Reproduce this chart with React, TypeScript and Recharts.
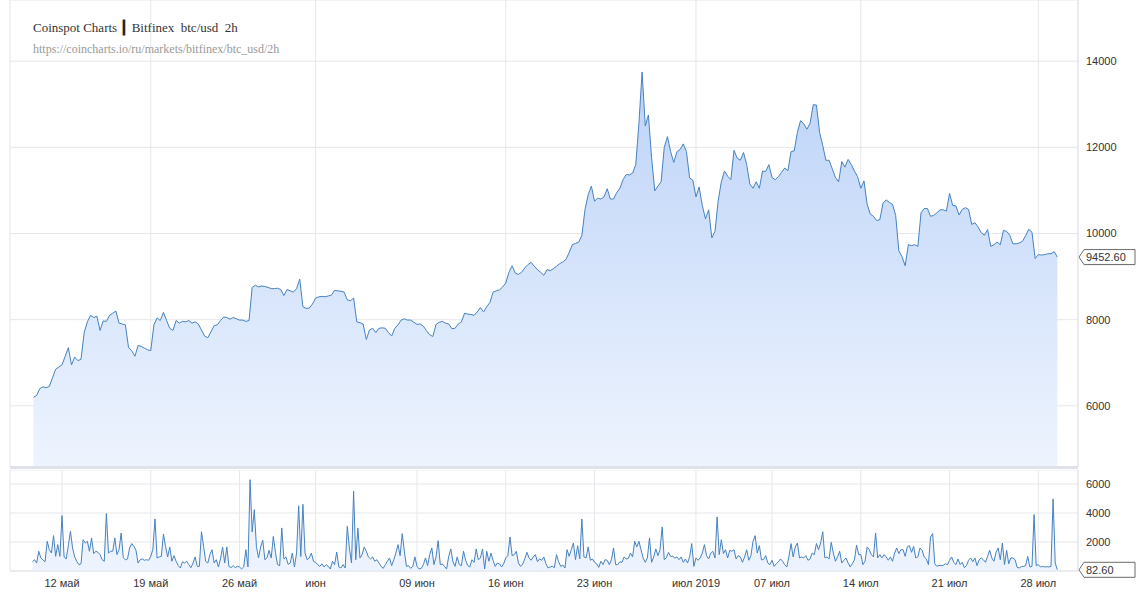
import React from 'react';
import { AreaChart, Area, XAxis, YAxis, CartesianGrid, ReferenceLine } from 'recharts';

// bitfinex btc/usd, May 9 - Jul 29 2019 (price every 6h, volume every 4h)
const HOUR = 3600 * 1000;
const priceStart = Date.UTC(2019, 4, 9, 18);
const priceStepHours = 6;
const volumeStart = Date.UTC(2019, 4, 9, 16);
const volumeStepHours = 4;

const prices = [
  6200, 6240, 6400, 6440, 6420, 6450, 6650, 6850, 6900, 6950,
  7150, 7350, 6950, 7130, 7050, 7080, 7700, 7950, 8100, 8050,
  8080, 7750, 7970, 7960, 8100, 8150, 8200, 7920, 7900, 7880,
  7350, 7280, 7150, 7400, 7380, 7340, 7300, 7280, 7880, 8040,
  7980, 8170, 7980, 7800, 7750, 7980, 7920, 7960, 7950, 7980,
  7920, 7950, 7900, 7760, 7620, 7580, 7720, 7860, 7880, 7980,
  8060, 8050, 8010, 8050, 8020, 7990, 7990, 7960, 7980, 8750,
  8800, 8760, 8780, 8770, 8750, 8720, 8720, 8730, 8700, 8560,
  8700, 8670, 8640, 8720, 8940, 8300, 8260, 8270, 8360, 8500,
  8530, 8540, 8530, 8550, 8570, 8680, 8670, 8660, 8640, 8460,
  8440, 8500, 7950, 7930, 7900, 7540, 7760, 7800, 7700, 7800,
  7810, 7800, 7700, 7620, 7800, 7880,
  7990, 8020, 7990, 7990, 7940, 7890, 7900, 7850, 7740, 7650, 7610,
  7890, 7940, 7960, 7920, 7900, 7790, 7800, 7900, 7950, 8150,
  8130, 8120, 8100, 8180, 8280, 8180, 8300, 8400, 8640, 8670,
  8690, 8760, 8850, 9100, 9250, 9080, 9050, 9100, 9200, 9280,
  9330, 9240, 9160, 9100, 9030, 9160, 9140, 9180, 9240, 9300,
  9340, 9400, 9560, 9740, 9770, 9800, 9950, 10560, 10900, 11100,
  10750, 10820, 10800, 10850, 11040, 10800, 10800, 10950, 11050, 11250,
  11370, 11360, 11400, 11600, 12550, 13750, 12500, 12750, 11760, 10990,
  11100, 11200, 12000, 12250, 11900, 11650, 11900, 11950, 12080, 11900,
  11290, 11240, 10850, 11080, 10650, 10340, 10550, 9900, 10050, 10760,
  11200, 11450, 11330, 11250, 11930, 11750,
  11700, 11880, 11600, 11150, 11050, 11200, 11050, 11450, 11440, 11600,
  11300, 11250, 11320, 11420, 11520, 11460, 11900, 11920, 12350, 12620,
  12550, 12420, 12560, 12990, 12980, 12350, 12040, 11700, 11700, 11500,
  11300, 11200, 11670, 11540, 11720, 11600, 11450, 11320, 11050, 11220,
  10680, 10450, 10400, 10300, 10320, 10700, 10780, 10720, 10680, 10420,
  9600, 9460, 9250, 9740, 9720, 9740, 9700, 10480, 10580, 10580,
  10400, 10420, 10480, 10550, 10550, 10520, 10930, 10650, 10640, 10430,
  10560, 10600, 10560, 10210, 10250, 10150, 10020, 9960, 10090, 9700,
  9740, 9800, 9740, 10070, 10050, 9960, 9760, 9760, 9780, 9820,
  9950, 10100, 10030, 9420, 9510, 9500, 9510, 9530, 9530, 9580,
  9452.6,
];

const volumes = [
  640, 780, 550, 1360, 900, 760, 640, 2050, 1470, 1240,
  2440, 1010, 1820, 1010, 3820, 970, 830, 1750, 2740, 1590,
  970, 670, 440, 500, 2160, 1930, 2050, 1360, 2280, 1200,
  1360, 1290, 1130, 780, 670, 3960, 1240, 1360, 1360, 2280,
  1130, 1470, 2620, 920, 780, 830, 1590, 1890, 1700, 1430,
  550, 780, 830, 740, 780, 740, 1010, 1500, 3590, 900,
  970, 1010, 2550, 1700, 970, 1660, 670, 1060, 670, 370,
  210, 640, 550, 670, 440, 230, 550, 970, 320, 320,
  2710, 1700, 670, 550, 1130, 1470, 550, 780, 280, 830,
  1660, 550, 1660, 320, 230, 370, 230, 320, 280, 140,
  280, 1470, 280, 6300, 2700, 4230, 1700, 900, 1660, 2120,
  780, 900, 1430, 900, 2390, 1290, 440, 370, 2970, 830,
  970, 460,
  550, 1240, 280, 1240, 4500, 1000, 4600, 1240, 780, 900,
  1240, 670, 600, 440, 320, 500, 280, 440, 320, 140,
  670, 440, 1310, 280, 210, 440, 210, 3080, 1590, 550,
  5500, 780, 2970, 900, 1130, 1660, 1360, 970, 830, 970,
  670, 780, 550, 320, 180, 440, 670, 900, 370, 780,
  1240, 1820, 1060, 2580, 1360, 320, 370, 180, 320, 970,
  320, 140, 180, 440, 900, 370, 1130, 1590, 440, 970,
  2090, 440, 480, 320, 140, 1010, 1520, 640, 320, 970,
  440, 370, 1360, 740, 370, 280, 780, 600, 1520, 780,
  900, 1520, 140, 1360, 670, 1240, 740, 320, 550, 500,
  280, 500, 900, 1060, 2350, 1060, 1130, 1360, 550, 320,
  480, 830, 1290, 900, 740, 970, 1130, 640, 830, 740,
  970, 500, 210,
  280, 320, 230, 1130, 640, 320, 410, 210, 1470, 1010,
  1470, 1930, 780, 1750, 830, 3590, 970, 900, 1660, 740,
  830, 600, 500, 250, 670, 440, 780, 740, 440, 780,
  1590, 440, 440, 640, 600, 970, 830, 870, 1240, 970,
  2050, 1660, 2050, 1470, 900, 600, 900, 2280, 600, 970,
  1520, 1060, 1470, 3040, 780, 920, 1290, 1010, 1010, 900,
  970, 780, 970, 600, 830, 550, 970, 1890, 320, 900,
  740, 900, 1240, 1820, 1060, 830, 1240, 1360, 900, 3730,
  1130, 2160, 1200, 1470, 900, 1430, 1360, 1470, 830, 1060,
  970, 600, 970, 1470, 740, 1060, 2050, 2440, 1240, 1750,
  780, 780, 1060, 550, 440, 740, 320, 500, 640, 830,
  670, 440, 280, 1010, 1890, 970, 1660, 1930, 900, 970,
  900, 1060, 740,
  830, 1240, 1130, 1900, 1470, 1930, 2710, 900, 970, 830,
  1980, 1240, 670, 970, 1360, 550, 740, 900, 550, 280,
  500, 780, 1790, 1130, 1130, 440, 670, 1660, 1470, 1130,
  970, 2620, 900, 1130, 900, 1130, 970, 740, 970, 670,
  1240, 1590, 1200, 1470, 1470, 1010, 1660, 1750, 1290, 1700,
  900, 970, 1590, 1430, 970, 830, 440, 2350, 2580, 500,
  320, 390, 370, 390, 500, 440, 740, 970, 600, 440,
  830, 440, 600, 230, 370, 740, 900, 640, 900, 370,
  780, 900, 780, 600, 1010, 1430, 900, 670, 1290, 1590,
  780, 1930, 440, 1430, 500, 900, 900, 780, 250, 210,
  300, 320, 370, 1010, 280, 320, 3890, 370, 440, 280,
  320, 280, 300, 280, 320, 4970, 550, 82.6,
];

const dateTicks = [
  Date.UTC(2019, 4, 12), Date.UTC(2019, 4, 19), Date.UTC(2019, 4, 26), Date.UTC(2019, 5, 1),
  Date.UTC(2019, 5, 9), Date.UTC(2019, 5, 16), Date.UTC(2019, 5, 23), Date.UTC(2019, 6, 1),
  Date.UTC(2019, 6, 7), Date.UTC(2019, 6, 14), Date.UTC(2019, 6, 21), Date.UTC(2019, 6, 28),
];
const dateTickLabels = [
  '12 май', '19 май', '26 май', 'июн', '09 июн', '16 июн', '23 июн', 'июл 2019',
  '07 июл', '14 июл', '21 июл', '28 июл',
];
const priceTicks = [6000, 8000, 10000, 12000, 14000];
const volumeTicks = [2000, 4000, 6000];

const xDomain = [Date.UTC(2019, 4, 7, 21, 35), Date.UTC(2019, 6, 31, 3, 7)];

const priceData = prices.map((price, i) => ({ t: priceStart + i * priceStepHours * HOUR, price }));
const volumeData = volumes.map((volume, i) => ({ t: volumeStart + i * volumeStepHours * HOUR, volume }));

const lastPrice = prices[prices.length - 1];
const lastVolume = volumes[volumes.length - 1];

const sans = '"Liberation Sans", Arial, sans-serif';
const serif = '"Liberation Serif", "Times New Roman", serif';
const lineColor = '#4682c0';
const gridColor = '#e6e7ec';
const tickStyle = { fontSize: 11, fill: '#333', fontFamily: sans };

const ValueTag = (props: any) => {
  const { viewBox, text } = props;
  if (!viewBox) return null;
  const x = viewBox.x + viewBox.width;
  const y = viewBox.y;
  return (
    <g>
      <path
        d={`M${x + 1} ${y} L${x + 6} ${y - 7.5} H${x + 57} V${y + 7.5} H${x + 6} Z`}
        fill="#fff"
        stroke="#6b6b6b"
        strokeWidth={1}
      />
      <text x={x + 8} y={y + 4} fontSize={11} fill="#333" fontFamily={sans}>
        {text}
      </text>
    </g>
  );
};

const formatDate = (t: number) => dateTickLabels[dateTicks.indexOf(t)] ?? '';

export default function App() {
  return (
    <div style={{ position: 'absolute', left: 0, top: 0, width: 1139, height: 596, background: '#fff' }}>
      <div style={{ position: 'absolute', left: 0, top: 0 }}>
        <AreaChart width={1139} height={467} data={priceData} margin={{ top: 0, right: 0, left: 10, bottom: 0 }}>
          <defs>
            <linearGradient id="priceFill" x1="0" y1="0" x2="0" y2="1">
              <stop offset="0%" stopColor="#bcd3f8" />
              <stop offset="100%" stopColor="#eef4fe" />
            </linearGradient>
          </defs>
          <CartesianGrid stroke={gridColor} />
          <XAxis dataKey="t" type="number" domain={xDomain} ticks={dateTicks} allowDataOverflow hide />
          <YAxis
            orientation="right"
            domain={[4580, 15420]}
            ticks={priceTicks}
            allowDataOverflow
            width={61}
            tickLine={false}
            axisLine={{ stroke: '#e3e5ea' }}
            tick={tickStyle}
          />
          <Area
            type="linear"
            dataKey="price"
            stroke={lineColor}
            strokeWidth={1}
            fill="url(#priceFill)"
            fillOpacity={1}
            dot={false}
            activeDot={false}
            isAnimationActive={false}
          />
          <ReferenceLine y={lastPrice} stroke="none" label={<ValueTag text={lastPrice.toFixed(2)} />} />
        </AreaChart>
      </div>

      <div style={{ position: 'absolute', left: 10, top: 466, width: 1068, height: 3, background: '#dfe2e8' }} />

      <div style={{ position: 'absolute', left: 0, top: 470 }}>
        <AreaChart width={1139} height={126} data={volumeData} margin={{ top: 0, right: 0, left: 10, bottom: 0 }}>
          <CartesianGrid stroke={gridColor} />
          <XAxis
            dataKey="t"
            type="number"
            domain={xDomain}
            ticks={dateTicks}
            allowDataOverflow
            tickFormatter={formatDate}
            height={25}
            tickLine={false}
            axisLine={{ stroke: '#e3e5ea' }}
            tick={tickStyle}
          />
          <YAxis
            orientation="right"
            domain={[0, 6966]}
            ticks={volumeTicks}
            allowDataOverflow
            width={61}
            tickLine={false}
            axisLine={{ stroke: '#e3e5ea' }}
            tick={tickStyle}
          />
          <Area
            type="linear"
            dataKey="volume"
            stroke={lineColor}
            strokeWidth={1}
            fill="#edf3fe"
            fillOpacity={1}
            dot={false}
            activeDot={false}
            isAnimationActive={false}
          />
          <ReferenceLine y={lastVolume} stroke="none" label={<ValueTag text={lastVolume.toFixed(2)} />} />
        </AreaChart>
      </div>

      <div style={{ position: 'absolute', left: 33, top: 20, fontFamily: serif, fontSize: 13, color: '#333', whiteSpace: 'pre' }}>
        Coinspot Charts <span style={{ fontWeight: 700, color: '#222' }}>┃</span> Bitfinex  btc/usd  2h
      </div>
      <div style={{ position: 'absolute', left: 33, top: 42, fontFamily: serif, fontSize: 12, color: '#999', whiteSpace: 'pre' }}>
        https://coincharts.io/ru/markets/bitfinex/btc_usd/2h
      </div>
    </div>
  );
}
